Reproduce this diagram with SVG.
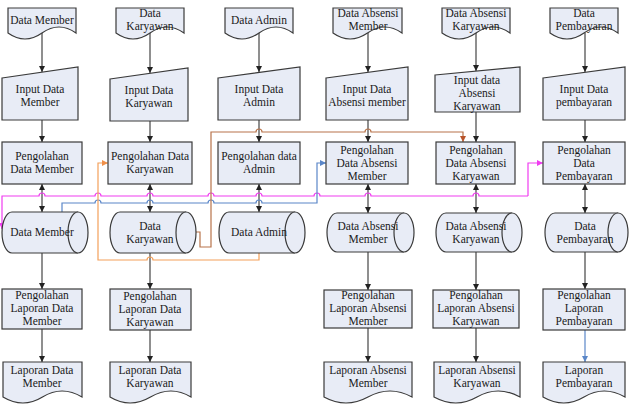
<svg xmlns="http://www.w3.org/2000/svg" width="630" height="409" viewBox="0 0 630 409">
<defs>
<style>
.s{fill:#e8ecf6;stroke:#3a3a3a;stroke-width:1.2}
.t{font-family:"Liberation Serif","Times New Roman",serif;font-size:11.5px;fill:#1a1a1a;text-anchor:middle}
.k{fill:none;stroke:#333;stroke-width:1.1}
.c{fill:none;stroke-width:1.2}
</style>
<marker id="a" markerWidth="6" markerHeight="6" refX="6" refY="3" orient="auto-start-reverse" markerUnits="userSpaceOnUse"><path d="M0,0 L6,3 L0,6 z" fill="#222"/></marker>
<marker id="am" markerWidth="6" markerHeight="6" refX="6" refY="3" orient="auto" markerUnits="userSpaceOnUse"><path d="M0,0 L6,3 L0,6 z" fill="#f03cf0"/></marker>
<marker id="ab" markerWidth="6" markerHeight="6" refX="6" refY="3" orient="auto" markerUnits="userSpaceOnUse"><path d="M0,0 L6,3 L0,6 z" fill="#5a86c8"/></marker>
<marker id="ar" markerWidth="6" markerHeight="6" refX="6" refY="3" orient="auto" markerUnits="userSpaceOnUse"><path d="M0,0 L6,3 L0,6 z" fill="#b8532a"/></marker>
<marker id="ao" markerWidth="6" markerHeight="6" refX="6" refY="3" orient="auto" markerUnits="userSpaceOnUse"><path d="M0,0 L6,3 L0,6 z" fill="#f0904a"/></marker>
</defs>

<g id="connectors">
<path class="k" d="M42 33 V72" marker-end="url(#a)"/>
<path class="k" d="M42 120 V142" marker-end="url(#a)"/>
<path class="k" d="M42 184 V212" marker-start="url(#a)" marker-end="url(#a)"/>
<path class="k" d="M42 253 V289" marker-end="url(#a)"/>
<path class="k" d="M42 329 V362" marker-end="url(#a)"/>
<path class="k" d="M150 33 V73" marker-end="url(#a)"/>
<path class="k" d="M150 121 V142" marker-end="url(#a)"/>
<path class="k" d="M150 184 V212" marker-start="url(#a)" marker-end="url(#a)"/>
<path class="k" d="M150 253 V289" marker-end="url(#a)"/>
<path class="k" d="M150 330 V362" marker-end="url(#a)"/>
<path class="k" d="M259 33 V72" marker-end="url(#a)"/>
<path class="k" d="M259 120 V142" marker-end="url(#a)"/>
<path class="k" d="M259 184 V212" marker-start="url(#a)" marker-end="url(#a)"/>
<path class="k" d="M368 33 V72" marker-end="url(#a)"/>
<path class="k" d="M368 120 V142" marker-end="url(#a)"/>
<path class="k" d="M368 184 V213" marker-start="url(#a)" marker-end="url(#a)"/>
<path class="k" d="M368 252 V290" marker-end="url(#a)"/>
<path class="k" d="M368 328 V362" marker-end="url(#a)"/>
<path class="k" d="M476 33 V71" marker-end="url(#a)"/>
<path class="k" d="M476 112 V142" marker-end="url(#a)"/>
<path class="k" d="M476 184 V213" marker-start="url(#a)" marker-end="url(#a)"/>
<path class="k" d="M476 252 V290" marker-end="url(#a)"/>
<path class="k" d="M476 328 V362" marker-end="url(#a)"/>
<path class="k" d="M585 33 V72" marker-end="url(#a)"/>
<path class="k" d="M585 120 V142" marker-end="url(#a)"/>
<path class="k" d="M585 184 V213" marker-start="url(#a)" marker-end="url(#a)"/>
<path class="k" d="M585 252 V289" marker-end="url(#a)"/>
<path class="c" stroke="#5a86c8" d="M585 329 V362" marker-end="url(#ab)"/>

<path class="c" stroke="#f03cf0" d="M528 196 H479 a3 3 0 0 0 -6 0 H371 a3 3 0 0 0 -6 0 H320 a3 3 0 0 0 -6 0 H262 a3 3 0 0 0 -6 0 H214 a3 3 0 0 0 -6 0 H153 a3 3 0 0 0 -6 0 H101 a3 3 0 0 0 -6 0 H45 a3 3 0 0 0 -6 0 H2 V229" marker-end="url(#am)"/>
<path class="c" stroke="#f03cf0" d="M528 196 V163 H543" marker-end="url(#am)"/>
<path class="c" stroke="#5a86c8" d="M62 212 V203 H95 a3 3 0 0 1 6 0 H147 a3 3 0 0 1 6 0 H208 a3 3 0 0 1 6 0 H256 a3 3 0 0 1 6 0 H317 V163 H326" marker-end="url(#ab)"/>
<path class="c" stroke="#b8734a" d="M192 232 H200 V247 H211 V132 H256 a3 3 0 0 1 6 0 H365 a3 3 0 0 1 6 0 H463 V142" marker-end="url(#ar)"/>
<path class="c" stroke="#f4a05a" d="M259 253 V260 H153 a3 3 0 0 0 -6 0 H98 V163 H108" marker-end="url(#ao)"/>
</g>

<g id="doc-data-member"><path class="s" d="M8 8 H76 V33 Q59 21 42 33 T8 33 Z"/><text class="t" x="42" y="24">Data Member</text></g>
<g id="doc-data-karyawan"><path class="s" d="M116 8 H184 V33 Q167 21 150 33 T116 33 Z"/><text class="t" x="150" y="17">Data</text><text class="t" x="150" y="30">Karyawan</text></g>
<g id="doc-data-admin"><path class="s" d="M225 8 H293 V33 Q276 21 259 33 T225 33 Z"/><text class="t" x="259" y="24">Data Admin</text></g>
<g id="doc-data-absensi-member"><path class="s" d="M333 8 H402 V33 Q385 21 367.5 33 T333 33 Z"/><text class="t" x="368" y="17">Data Absensi</text><text class="t" x="368" y="30">Member</text></g>
<g id="doc-data-absensi-karyawan"><path class="s" d="M442 8 H510 V33 Q493 21 476 33 T442 33 Z"/><text class="t" x="476" y="17">Data Absensi</text><text class="t" x="476" y="30">Karyawan</text></g>
<g id="doc-data-pembayaran"><path class="s" d="M550 8 H618 V33 Q601 21 584 33 T550 33 Z"/><text class="t" x="584" y="17">Data</text><text class="t" x="584" y="30">Pembayaran</text></g>

<g id="in-member"><path class="s" d="M2 78 L78 67 V120 H2 Z"/><text class="t" x="40" y="93">Input Data</text><text class="t" x="40" y="106">Member</text></g>
<g id="in-karyawan"><path class="s" d="M110 79 L188 68 V121 H110 Z"/><text class="t" x="149" y="94">Input Data</text><text class="t" x="149" y="107">Karyawan</text></g>
<g id="in-admin"><path class="s" d="M218 78 L300 67 V120 H218 Z"/><text class="t" x="259" y="93">Input Data</text><text class="t" x="259" y="106">Admin</text></g>
<g id="in-absensi-member"><path class="s" d="M326 78 L408 67 V120 H326 Z"/><text class="t" x="367" y="93">Input Data</text><text class="t" x="367" y="106">Absensi member</text></g>
<g id="in-absensi-karyawan"><path class="s" d="M435 75 L520 67 V112 H435 Z"/><text class="t" x="477" y="84">Input data</text><text class="t" x="477" y="97">Absensi</text><text class="t" x="477" y="110">Karyawan</text></g>
<g id="in-pembayaran"><path class="s" d="M543 78 L625 67 V120 H543 Z"/><text class="t" x="584" y="93">Input Data</text><text class="t" x="584" y="106">pembayaran</text></g>

<g id="p-member"><rect class="s" x="2" y="142" width="80" height="42"/><text class="t" x="42" y="160">Pengolahan</text><text class="t" x="42" y="173">Data Member</text></g>
<g id="p-karyawan"><rect class="s" x="108" y="142" width="84" height="42"/><text class="t" x="150" y="160">Pengolahan Data</text><text class="t" x="150" y="173">Karyawan</text></g>
<g id="p-admin"><rect class="s" x="218" y="142" width="82" height="42"/><text class="t" x="259" y="160">Pengolahan data</text><text class="t" x="259" y="173">Admin</text></g>
<g id="p-absensi-member"><rect class="s" x="326" y="142" width="82" height="42"/><text class="t" x="367" y="154">Pengolahan</text><text class="t" x="367" y="167">Data Absensi</text><text class="t" x="367" y="180">Member</text></g>
<g id="p-absensi-karyawan"><rect class="s" x="436" y="142" width="79" height="42"/><text class="t" x="476" y="154">Pengolahan</text><text class="t" x="476" y="167">Data Absensi</text><text class="t" x="476" y="180">Karyawan</text></g>
<g id="p-pembayaran"><rect class="s" x="543" y="142" width="82" height="42"/><text class="t" x="584" y="154">Pengolahan</text><text class="t" x="584" y="167">Data</text><text class="t" x="584" y="180">Pembayaran</text></g>

<g id="db-member"><path class="s" d="M12 212 H78 A10 20.5 0 0 1 78 253 H12 A10 20.5 0 0 1 12 212 Z"/><path class="s" d="M78 212 A10 20.5 0 0 0 78 253"/><text class="t" x="42" y="236">Data Member</text></g>
<g id="db-karyawan"><path class="s" d="M120 212 H186 A10 20.5 0 0 1 186 253 H120 A10 20.5 0 0 1 120 212 Z"/><path class="s" d="M186 212 A10 20.5 0 0 0 186 253"/><text class="t" x="150" y="230">Data</text><text class="t" x="150" y="243">Karyawan</text></g>
<g id="db-admin"><path class="s" d="M229 212 H295 A10 20.5 0 0 1 295 253 H229 A10 20.5 0 0 1 229 212 Z"/><path class="s" d="M295 212 A10 20.5 0 0 0 295 253"/><text class="t" x="259" y="236">Data Admin</text></g>
<g id="db-absensi-member"><path class="s" d="M337 213 H404 A10 19.5 0 0 1 404 252 H337 A10 19.5 0 0 1 337 213 Z"/><path class="s" d="M404 213 A10 19.5 0 0 0 404 252"/><text class="t" x="368" y="230">Data Absensi</text><text class="t" x="368" y="243">Member</text></g>
<g id="db-absensi-karyawan"><path class="s" d="M446 213 H512 A10 19.5 0 0 1 512 252 H446 A10 19.5 0 0 1 446 213 Z"/><path class="s" d="M512 213 A10 19.5 0 0 0 512 252"/><text class="t" x="476" y="230">Data Absensi</text><text class="t" x="476" y="243">Karyawan</text></g>
<g id="db-pembayaran"><path class="s" d="M555 213 H618 A10 19.5 0 0 1 618 252 H555 A10 19.5 0 0 1 555 213 Z"/><path class="s" d="M618 213 A10 19.5 0 0 0 618 252"/><text class="t" x="585" y="230">Data</text><text class="t" x="585" y="243">Pembayaran</text></g>

<g id="pl-member"><rect class="s" x="2" y="289" width="80" height="40"/><text class="t" x="42" y="299">Pengolahan</text><text class="t" x="42" y="312">Laporan Data</text><text class="t" x="42" y="325">Member</text></g>
<g id="pl-karyawan"><rect class="s" x="110" y="289" width="81" height="41"/><text class="t" x="150" y="300">Pengolahan</text><text class="t" x="150" y="313">Laporan Data</text><text class="t" x="150" y="326">Karyawan</text></g>
<g id="pl-absensi-member"><rect class="s" x="324" y="290" width="88" height="38"/><text class="t" x="368" y="299">Pengolahan</text><text class="t" x="368" y="312">Laporan Absensi</text><text class="t" x="368" y="325">Member</text></g>
<g id="pl-absensi-karyawan"><rect class="s" x="433" y="290" width="86" height="38"/><text class="t" x="476" y="299">Pengolahan</text><text class="t" x="476" y="312">Laporan Absensi</text><text class="t" x="476" y="325">Karyawan</text></g>
<g id="pl-pembayaran"><rect class="s" x="543" y="289" width="82" height="41"/><text class="t" x="584" y="299">Pengolahan</text><text class="t" x="584" y="312">Laporan</text><text class="t" x="584" y="325">Pembayaran</text></g>

<g id="r-member"><path class="s" d="M3 362 H82 V397 Q62 385 42.5 397 T3 397 Z"/><text class="t" x="42" y="374">Laporan Data</text><text class="t" x="42" y="387">Member</text></g>
<g id="r-karyawan"><path class="s" d="M110 362 H191 V397 Q171 385 150.5 397 T110 397 Z"/><text class="t" x="150" y="374">Laporan Data</text><text class="t" x="150" y="387">Karyawan</text></g>
<g id="r-absensi-member"><path class="s" d="M324 362 H412 V397 Q390 385 368 397 T324 397 Z"/><text class="t" x="368" y="374">Laporan Absensi</text><text class="t" x="368" y="387">Member</text></g>
<g id="r-absensi-karyawan"><path class="s" d="M434 362 H520 V397 Q498 385 477 397 T434 397 Z"/><text class="t" x="477" y="374">Laporan Absensi</text><text class="t" x="477" y="387">Karyawan</text></g>
<g id="r-pembayaran"><path class="s" d="M543 362 H625 V397 Q604 385 584 397 T543 397 Z"/><text class="t" x="584" y="374">Laporan</text><text class="t" x="584" y="387">Pembayaran</text></g>
</svg>
